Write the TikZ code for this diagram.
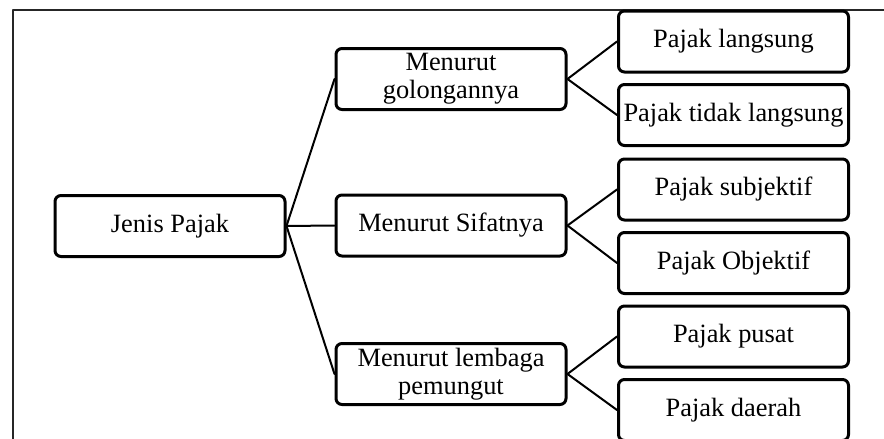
\documentclass[tikz,border=0pt]{standalone}
\usepackage{fontspec}
\setmainfont{Liberation Serif}
\begin{document}
\begin{tikzpicture}[x=0.5pt,y=-0.5pt,line join=round,line cap=round,
            font=\fontsize{13.2}{13.8}\selectfont,
            box/.style={draw,rounded corners=3pt,line width=1.5pt,minimum width=115pt,
                minimum height=30.5pt,inner sep=1pt,align=center},
            link/.style={line width=1pt}]
            \def\xmin{0} \def\xmax{884}
            \def\ymin{0} \def\ymax{439}
            \useasboundingbox (\xmin,\ymin) rectangle (\xmax,\ymax);
            % frame
            \draw[line width=1pt,black!85] (12.5,\ymax)--(12.5,10)--(\xmax,10);
            \node[box] (jenis) at (170,226) {Jenis Pajak};
            \node[box] (gol) at (451,79) {Menurut\\golongannya};
            \node[box] (sifat) at (451,225.5) {Menurut Sifatnya};
            \node[box] (lembaga) at (451,374) {Menurut lembaga\\pemungut};
            \node[box] (langsung) at (733.5,41.5) {Pajak langsung};
            \node[box] (tlangsung) at (733.5,115) {Pajak tidak langsung};
            \node[box] (subj) at (733.5,189.5) {Pajak subjektif};
            \node[box] (obj) at (733.5,263) {Pajak Objektif};
            \node[box] (pusat) at (733.5,336.5) {Pajak pusat};
            \node[box] (daerah) at (733.5,410) {Pajak daerah};
            \foreach \a/\b in {jenis/gol,jenis/sifat,jenis/lembaga,gol/langsung,gol/tlangsung,
                sifat/subj,sifat/obj,lembaga/pusat,lembaga/daerah}
                \draw[link] (\a.east)--(\b.west);
        \end{tikzpicture}
\end{document}
